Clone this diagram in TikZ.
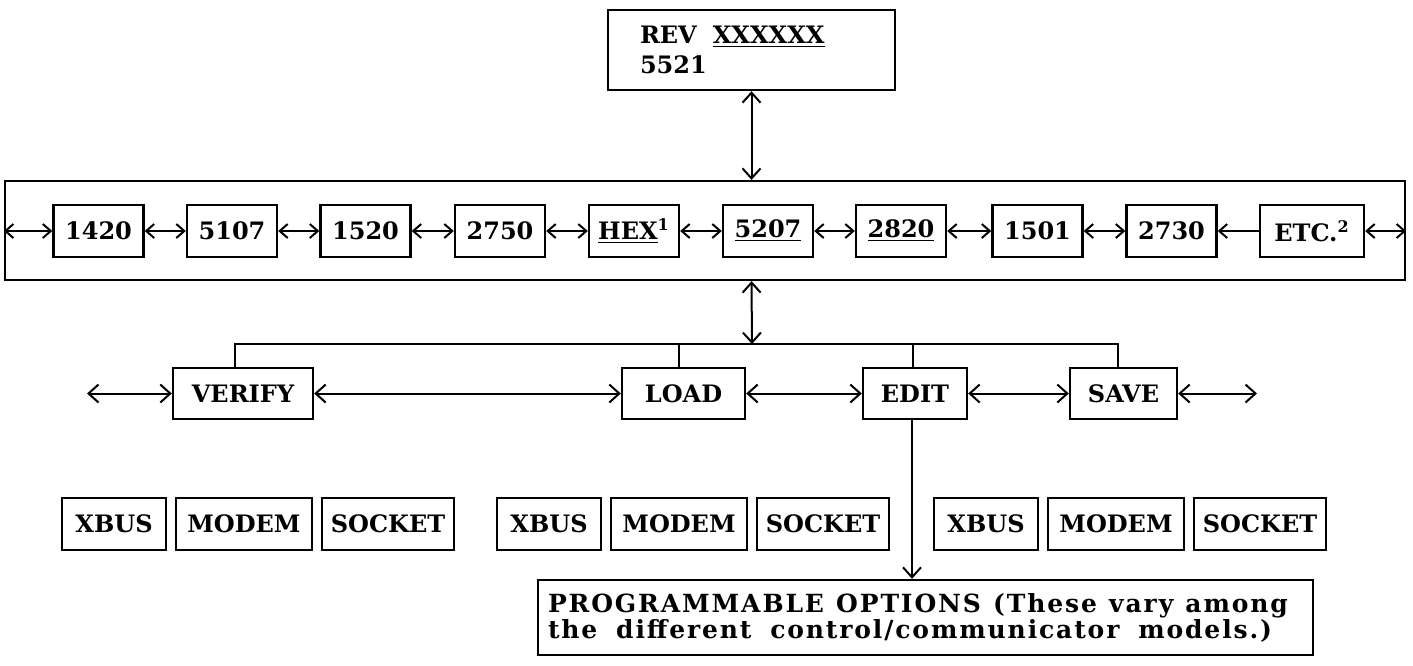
\documentclass[tikz,border=0pt]{standalone}
\usepackage{fontspec}
\setmainfont{DejaVu Serif}
\newfontfamily\progfont[LetterSpace=7.5]{DejaVu Serif}
\usetikzlibrary{arrows.meta}

\tikzset{
  box/.style={draw, line width=1.2pt, inner sep=0pt, minimum height=26pt,
              font=\bfseries\fontsize{12}{14}\selectfont},
  conn/.style={line width=1pt, {Straight Barb[length=4pt,width=7pt]}-{Straight Barb[length=4pt,width=7pt]}},
  bigconn/.style={line width=1pt, {Straight Barb[length=5pt,width=9pt]}-{Straight Barb[length=5pt,width=9pt]}},
}

\begin{document}
\begin{tikzpicture}[x=0.5pt,y=-0.5pt]
  \useasboundingbox (0,0) rectangle (1413,665);

  % revision box
  \node[box, minimum width=143.5pt, minimum height=40pt, text width=111.5pt,
        inner xsep=16pt, align=left, font=\bfseries\fontsize{12}{15}\selectfont]
        (rev) at (751.5,50) {REV\ \ \underline{XXXXXX}\\5521};

  % program bar
  \node[draw, line width=1.1pt, minimum width=700pt, minimum height=49.5pt,
        inner sep=0pt] (bar) at (705,230.5) {};
  \foreach \name/\x/\txt in {n1420/98.5/1420, n5107/232/5107, n1520/365.5/1520,
      n2750/500/2750, hex/634/{\underline{HEX}\textsuperscript{1}},
      n5207/768/{\underline{5207}}, n2820/901/{\underline{2820}},
      n1501/1037.5/1501, n2730/1171.5/2730} {
    \node[box, minimum width=45pt] (\name) at (\x,231) {\txt};
  }
  \node[box, minimum width=52pt] (etc) at (1312,231) {ETC.\textsuperscript{2}};

  \draw[conn] (bar.west |- n1420) -- (n1420.west);
  \foreach \a/\b in {n1420/n5107, n5107/n1520, n1520/n2750, n2750/hex,
      hex/n5207, n5207/n2820, n2820/n1501, n1501/n2730} {
    \draw[conn] (\a.east) -- (\b.west);
  }
  \draw[line width=1pt, -{Straight Barb[length=4pt,width=7pt]}] (etc.west) -- (n2730.east);
  \draw[conn] (etc.east) -- (bar.east |- etc);
  \draw[bigconn] (rev.south) -- (rev.south |- bar.north);

  % functions
  \node[box, minimum width=70pt, minimum height=25.5pt] (verify) at (243,393.5) {VERIFY};
  \node[box, minimum width=61.5pt, minimum height=25.5pt] (load) at (683.5,393.5) {LOAD};
  \node[box, minimum width=52pt, minimum height=25.5pt] (edit) at (915,393.5) {EDIT};
  \node[box, minimum width=53.5pt, minimum height=25.5pt] (save) at (1123.5,393.5) {SAVE};

  \coordinate (busc) at (752,344);
  \coordinate (vleft) at (87,393.5);
  \coordinate (sright) at (1257,393.5);
  \draw[bigconn] (rev.south |- bar.south) -- (busc);
  \draw[line width=1pt] ([xshift=-4pt]verify.north) -- ([xshift=-4pt]verify.north |- busc)
    -- ([xshift=-3pt]save.north |- busc) -- ([xshift=-3pt]save.north);
  \draw[line width=1pt] ([xshift=-2.5pt]load.north) -- ([xshift=-2.5pt]load.north |- busc);
  \draw[line width=1pt] ([xshift=-1pt]edit.north) -- ([xshift=-1pt]edit.north |- busc);

  \draw[bigconn] (vleft) -- (verify.west);
  \draw[bigconn] (verify.east) -- (load.west);
  \draw[bigconn] (load.east) -- (edit.west);
  \draw[bigconn] (edit.east) -- (save.west);
  \draw[bigconn] (save.east) -- (sright);

  % ports
  \foreach \g/\gx in {1/62, 2/497, 3/934} {
    \node[box, minimum width=52pt] (xbus\g) at (\gx+52,524) {XBUS};
    \node[box, minimum width=68pt] (modem\g) at (\gx+182,524) {MODEM};
    \node[box, minimum width=66pt] (socket\g) at (\gx+326,524) {SOCKET};
  }

  % options
  \node[box, align=left, text width=377.5pt, inner xsep=5pt, minimum height=37.5pt,
        font=\progfont\bfseries\fontsize{12.5}{13}\selectfont] (prog) at (925.5,617.5)
        {\makebox[370pt][l]{PROGRAMMABLE\hfill OPTIONS\hfill (These\hfill vary\hfill among}\\
         \makebox[362pt][l]{the\hfill different\hfill control/communicator\hfill models.)}};
  \draw[line width=1pt, -{Straight Barb[length=5pt,width=9pt]}] ([xshift=-1.5pt]edit.south)
    -- ([xshift=-1.5pt]edit.south |- prog.north);
\end{tikzpicture}
\end{document}
